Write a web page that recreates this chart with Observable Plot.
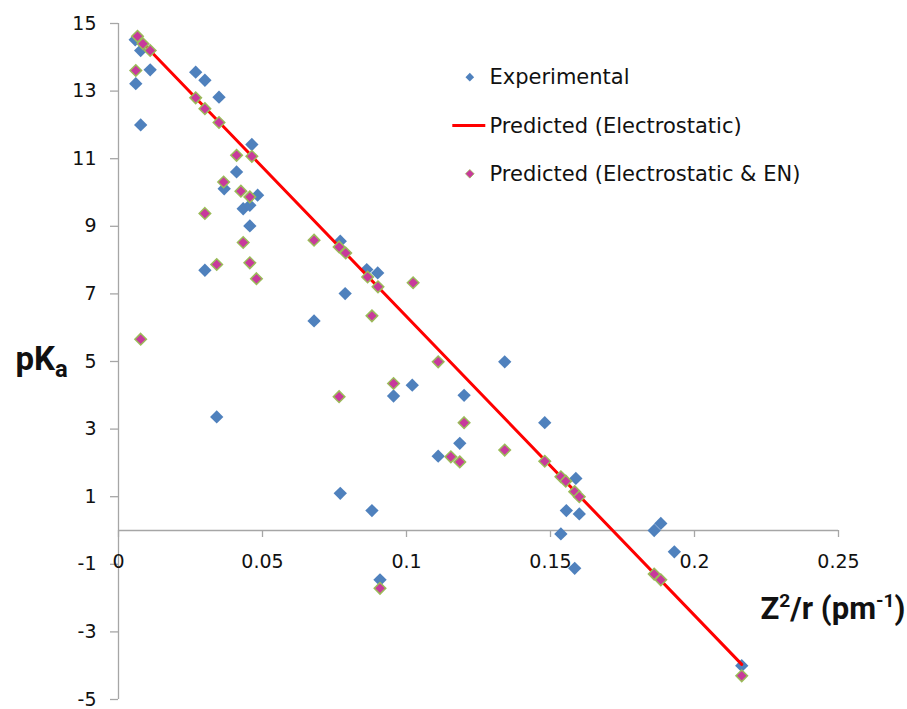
<!DOCTYPE html>
<html>
<head>
<meta charset="utf-8">
<script src="https://cdn.jsdelivr.net/npm/d3@7"></script>
<script src="https://cdn.jsdelivr.net/npm/@observablehq/plot@0.6"></script>
<style>
  html, body { margin: 0; padding: 0; background: #fff; }
  #chart { width: 907px; height: 709px; }
</style>
</head>
<body>
<div id="chart"></div>
<script>
// ---- Data ----
const expX = [0.0058, 0.0077, 0.006, 0.0077, 0.011, 0.0268, 0.030, 0.0349, 0.0463, 0.041,
              0.0367, 0.0483, 0.0433, 0.0456, 0.0456, 0.030, 0.0679, 0.0341, 0.077, 0.0862,
              0.090, 0.0787, 0.1341, 0.102, 0.0955, 0.120, 0.148, 0.1185, 0.111, 0.1588,
              0.077, 0.088, 0.0908, 0.1536, 0.1555, 0.160, 0.1584, 0.186, 0.1883, 0.193, 0.2164];
const expY = [14.52, 14.2, 13.22, 12.0, 13.63, 13.56, 13.32, 12.82, 11.42, 10.61,
              10.11, 9.92, 9.52, 9.62, 9.01, 7.70, 6.2, 3.36, 8.56, 7.72,
              7.62, 7.01, 4.99, 4.30, 3.98, 4.0, 3.19, 2.58, 2.2, 1.54,
              1.10, 0.59, -1.46, -0.1, 0.59, 0.49, -1.12, 0.0, 0.21, -0.63, -4.0];

const predENX = [0.0066, 0.0085, 0.011, 0.006, 0.0268, 0.030, 0.0349, 0.041, 0.0463, 0.0365,
                 0.0425, 0.0456, 0.030, 0.0433, 0.0679, 0.0766, 0.0341, 0.0456, 0.0479, 0.0077,
                 0.0766, 0.0789, 0.0865, 0.0901, 0.1023, 0.088, 0.111, 0.0955, 0.120, 0.1341,
                 0.1154, 0.1185, 0.148, 0.1536, 0.1553, 0.1584, 0.160, 0.0908, 0.186, 0.1883, 0.2164];
const predENY = [14.62, 14.4, 14.2, 13.61, 12.8, 12.48, 12.07, 11.1, 11.07, 10.31,
                 10.04, 9.87, 9.38, 8.52, 8.59, 8.39, 7.87, 7.92, 7.45, 5.66,
                 3.96, 8.21, 7.5, 7.21, 7.33, 6.35, 4.99, 4.35, 3.19, 2.38,
                 2.18, 2.03, 2.05, 1.59, 1.46, 1.15, 1.0, -1.71, -1.29, -1.46, -4.3];

const predElX = [0.006, 0.2164];
const predElY = [14.64, -3.96];

const xTicks = [0, 0.05, 0.1, 0.15, 0.2, 0.25];
const xTickLabels = ["0", "0.05", "0.1", "0.15", "0.2", "0.25"];
const yTicks = [-5, -3, -1, 1, 3, 5, 7, 9, 11, 13, 15];
const yTickLabels = ["-5", "-3", "-1", "1", "3", "5", "7", "9", "11", "13", "15"];

const seriesNames = ["Experimental", "Predicted (Electrostatic)", "Predicted (Electrostatic & EN)"];
const xTitleParts = [["Z", ""], ["2", "sup"], ["/r (pm", ""], ["-1", "sup"], [")", ""]];
const yTitleParts = [["pK", ""], ["a", "sub"]];

// ---- Styling ----
const BLUE = "#4f81bd", RED = "#ff0000", MAGENTA = "#c8399c", GREEN = "#9bbb59";
const AXIS = "#a6a6a6", TEXT = "#111";

const exp = expX.map((x, i) => ({x, y: expY[i]}));
const predEN = predENX.map((x, i) => ({x, y: predENY[i]}));
const predEl = predElX.map((x, i) => ({x, y: predElY[i]}));

const lineSymbol = { draw(ctx) { ctx.moveTo(-16.5, 0); ctx.lineTo(16.5, 0); } };
const legendFont = 21;
const tickFont = 19;

const chart = Plot.plot({
  width: 907,
  height: 709,
  marginLeft: 118,
  marginRight: 69,
  marginTop: 23,
  marginBottom: 10,
  style: { fontFamily: "DejaVu Sans", fontSize: "19px", color: TEXT, background: "#fff" },
  x: { domain: [0, 0.25], axis: null },
  y: { domain: [-5, 15], axis: null },
  marks: [
    // axes
    Plot.ruleX([0], { stroke: AXIS, strokeWidth: 1.3 }),
    Plot.ruleY([0], { stroke: AXIS, strokeWidth: 1.3 }),
    Plot.ruleX(xTicks, { x: d => d, y1: () => 0, y2: () => 0, insetBottom: -7, stroke: AXIS, strokeWidth: 1.3 }),
    Plot.axisY(yTicks, {
      anchor: "left", tickSize: 8, tickPadding: 14, stroke: AXIS, strokeWidth: 1.3,
      fill: TEXT, fontSize: tickFont, tickFormat: d => yTickLabels[yTicks.indexOf(d)], label: null
    }),
    Plot.text(xTicks, { x: d => d, y: () => 0, dy: 31, text: (d, i) => xTickLabels[i], fontSize: tickFont, fill: TEXT }),
    // series
    Plot.dot(exp, { x: "x", y: "y", symbol: "diamond2", r: 6, fill: BLUE, stroke: "none" }),
    Plot.line(predEl, { x: "x", y: "y", stroke: RED, strokeWidth: 3 }),
    Plot.dot(predEN, { x: "x", y: "y", symbol: "diamond2", r: 5.2, fill: MAGENTA, stroke: GREEN, strokeWidth: 1.5 }),
    // legend
    Plot.dot([seriesNames[0]], { frameAnchor: "top-left", dx: 351.3, dy: 53.7, symbol: "diamond2", r: 3.9, fill: BLUE, stroke: "none" }),
    Plot.dot([seriesNames[1]], { frameAnchor: "top-left", dx: 350.3, dy: 102, symbol: lineSymbol, fill: "none", stroke: RED, strokeWidth: 3 }),
    Plot.dot([seriesNames[2]], { frameAnchor: "top-left", dx: 351.3, dy: 150.3, symbol: "diamond2", r: 3.9, fill: MAGENTA, stroke: GREEN, strokeWidth: 0.8 }),
    Plot.text([seriesNames[0]], { frameAnchor: "top-left", dx: 371, dy: 54, lineAnchor: "middle", textAnchor: "start", fontSize: legendFont, fill: TEXT }),
    Plot.text([seriesNames[1]], { frameAnchor: "top-left", dx: 371, dy: 103, lineAnchor: "middle", textAnchor: "start", fontSize: legendFont, fill: TEXT }),
    Plot.text([seriesNames[2]], { frameAnchor: "top-left", dx: 371, dy: 151, lineAnchor: "middle", textAnchor: "start", fontSize: legendFont, fill: TEXT }),
    // axis titles
    Plot.text([yTitleParts.map(p => p[0]).join("")], { frameAnchor: "top-left", dx: -103, dy: 346, lineAnchor: "bottom", textAnchor: "start", fontSize: 33, fontWeight: "bold", fontFamily: "Roboto", fill: TEXT }),
    Plot.text([xTitleParts.map(p => p[0]).join("")], { frameAnchor: "top-right", dx: 67, dy: 595, lineAnchor: "bottom", textAnchor: "end", fontSize: 31, fontWeight: "bold", fontFamily: "Roboto", fill: TEXT })
  ]
});

document.getElementById("chart").appendChild(chart);

// Rebuild axis titles with sub/superscripts
function richText(parts, mainSize) {
  const raw = parts.map(p => p[0]).join("");
  d3.select(chart).selectAll("text").filter(function () { return this.textContent === raw; })
    .each(function () {
      const t = d3.select(this);
      t.text(null);
      let shift = 0;
      parts.forEach(([s, kind]) => {
        const ts = t.append("tspan").text(s);
        let target = 0;
        if (kind === "sup") { ts.attr("font-size", mainSize * 0.62); target = -mainSize * 0.38; }
        if (kind === "sub") { ts.attr("font-size", mainSize * 0.72); target = mainSize * 0.22; }
        ts.attr("dy", target - shift);
        shift = target;
      });
    });
}
richText(yTitleParts, 33);
richText(xTitleParts, 31);
</script>
</body>
</html>
